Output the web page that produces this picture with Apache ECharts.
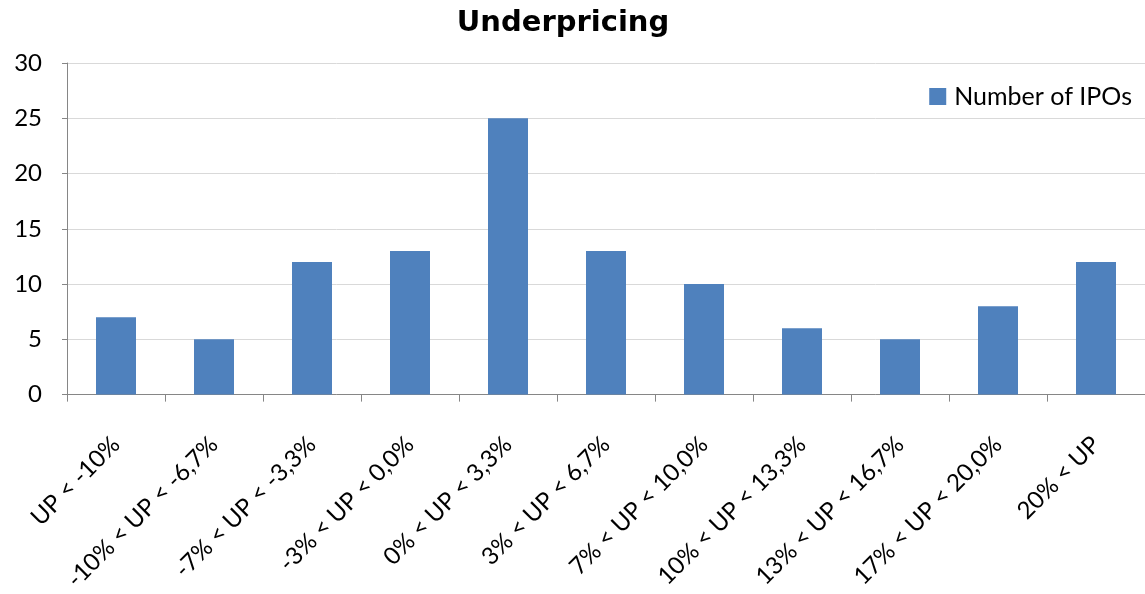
<!DOCTYPE html>
<html><head><meta charset="utf-8">
<script src="https://cdn.jsdelivr.net/npm/echarts@6/dist/echarts.min.js"></script>
<style>html,body{margin:0;padding:0;background:#fff}#c{width:1145px;height:594px}</style>
</head><body><div id="c"></div>
<script>
const categories = ["UP < -10%", "-10% < UP < -6,7%", "-7% < UP < -3,3%", "-3% < UP < 0,0%", "0% < UP < 3,3%", "3% < UP < 6,7%", "7% < UP < 10,0%", "10% < UP < 13,3%", "13% < UP < 16,7%", "17% < UP < 20,0%", "20% < UP"];
const ipoCounts = [7, 5, 12, 13, 25, 13, 10, 6, 5, 8, 12];
const seriesName = "Number of IPOs";
const chart = echarts.init(document.getElementById('c'));
const font = "Lato, 'Open Sans', sans-serif";
chart.setOption({
  animation: false,
  backgroundColor: '#fff',
  title: { text: 'Underpricing', left: 558, top: 4, textAlign: 'center',
    textStyle: { fontFamily: "'DejaVu Sans', sans-serif", fontSize: 29, fontWeight: 'bold', color: '#000' } },
  legend: { data: [seriesName], right: 8, top: 79, icon: 'rect', itemWidth: 17, itemHeight: 17, itemGap: 6,
    textStyle: { fontFamily: font, fontSize: 25, color: '#000', padding: [0, 0, 0, 3] } },
  grid: { left: 67, top: 63, width: 1096, height: 333 },
  xAxis: {
    type: 'category', data: categories, boundaryGap: true,
    axisLine: { lineStyle: { color: '#868686', width: 1 } },
    axisTick: { show: true, length: 7, lineStyle: { color: '#868686' } },
    axisLabel: { rotate: 45, interval: 0, margin: 46, fontFamily: font, fontSize: 24, color: '#000' }
  },
  yAxis: {
    type: 'value', min: 0, max: 30, interval: 5,
    axisLine: { show: true, lineStyle: { color: '#868686' } },
    axisTick: { show: true, length: 5, lineStyle: { color: '#868686' } },
    splitLine: { lineStyle: { color: '#d9d9d9' } },
    axisLabel: { fontFamily: font, fontSize: 24, color: '#000', margin: 25 }
  },
  series: [{ name: seriesName, type: 'bar', data: ipoCounts, barWidth: 40,
    itemStyle: { color: '#4f81bd' } }]
});
</script></body></html>
